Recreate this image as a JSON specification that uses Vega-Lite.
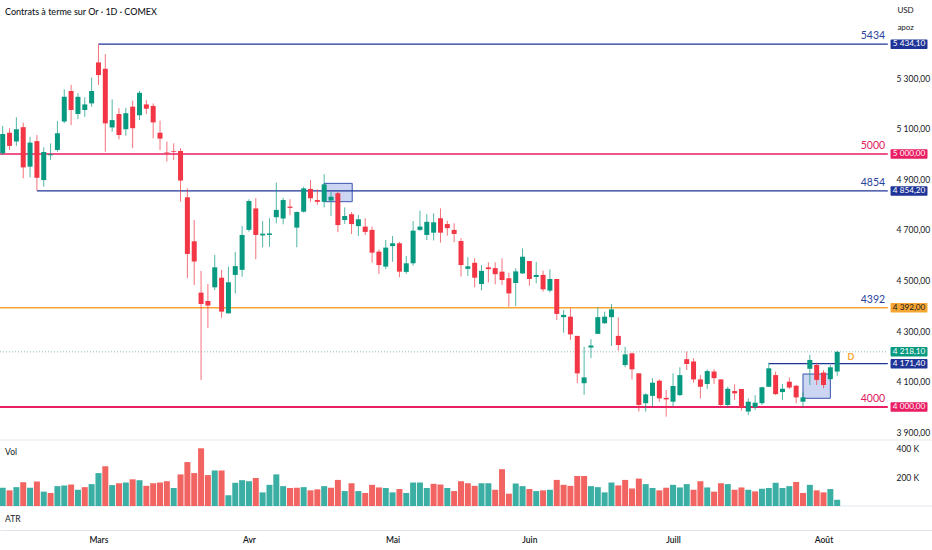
{
  "$schema": "https://vega.github.io/schema/vega-lite/v6.json",
  "width": 932,
  "height": 530,
  "autosize": "none",
  "padding": {"left": 0, "top": 0, "right": 0, "bottom": 20},
  "background": "white",
  "title": {
    "text": "Contrats à terme sur Or · 1D · COMEX",
    "anchor": "start",
    "frame": "group",
    "offset": -17,
    "dx": 5,
    "fontSize": 9,
    "fontWeight": 500,
    "color": "#131722"
  },
  "config": {
    "view": {"stroke": null},
    "font": "Lato",
    "axis": {"grid": false, "labelFont": "Lato", "labelColor": "#131722", "labelFontSize": 8.5, "labelOverlap": false}
  },
  "datasets": {
    "bars": [
      {"i": 1, "o": 5003, "h": 5111, "l": 4996, "c": 5079, "v": 126, "vd": "up"},
      {"i": 2, "o": 5084, "h": 5102, "l": 5016, "c": 5032, "v": 108, "vd": "dn"},
      {"i": 3, "o": 5049, "h": 5145, "l": 5032, "c": 5098, "v": 130, "vd": "up"},
      {"i": 4, "o": 5106, "h": 5124, "l": 4904, "c": 4947, "v": 164, "vd": "dn"},
      {"i": 5, "o": 4950, "h": 5068, "l": 4908, "c": 5045, "v": 126, "vd": "up"},
      {"i": 6, "o": 5051, "h": 5075, "l": 4855, "c": 4906, "v": 169, "vd": "dn"},
      {"i": 7, "o": 4897, "h": 5026, "l": 4871, "c": 5008, "v": 99, "vd": "up"},
      {"i": 8, "o": 4995, "h": 5042, "l": 4976, "c": 4999, "v": 90, "vd": "dn"},
      {"i": 9, "o": 5016, "h": 5130, "l": 5009, "c": 5082, "v": 137, "vd": "up"},
      {"i": 10, "o": 5128, "h": 5256, "l": 5122, "c": 5226, "v": 142, "vd": "up"},
      {"i": 11, "o": 5249, "h": 5273, "l": 5114, "c": 5174, "v": 148, "vd": "dn"},
      {"i": 12, "o": 5158, "h": 5240, "l": 5138, "c": 5226, "v": 112, "vd": "up"},
      {"i": 13, "o": 5174, "h": 5224, "l": 5147, "c": 5196, "v": 130, "vd": "dn"},
      {"i": 14, "o": 5200, "h": 5302, "l": 5187, "c": 5249, "v": 151, "vd": "up"},
      {"i": 15, "o": 5362, "h": 5434.1, "l": 5273, "c": 5312, "v": 227, "vd": "up"},
      {"i": 16, "o": 5337, "h": 5395, "l": 5009, "c": 5121, "v": 274, "vd": "dn"},
      {"i": 17, "o": 5105, "h": 5216, "l": 5088, "c": 5134, "v": 144, "vd": "up"},
      {"i": 18, "o": 5158, "h": 5181, "l": 5058, "c": 5075, "v": 157, "vd": "dn"},
      {"i": 19, "o": 5098, "h": 5183, "l": 5072, "c": 5161, "v": 162, "vd": "up"},
      {"i": 20, "o": 5187, "h": 5211, "l": 5023, "c": 5102, "v": 184, "vd": "dn"},
      {"i": 21, "o": 5153, "h": 5249, "l": 5134, "c": 5242, "v": 178, "vd": "up"},
      {"i": 22, "o": 5196, "h": 5213, "l": 5158, "c": 5179, "v": 139, "vd": "dn"},
      {"i": 23, "o": 5190, "h": 5200, "l": 5062, "c": 5125, "v": 157, "vd": "dn"},
      {"i": 24, "o": 5084, "h": 5132, "l": 5016, "c": 5061, "v": 162, "vd": "dn"},
      {"i": 25, "o": 5006, "h": 5049, "l": 4970, "c": 5003, "v": 171, "vd": "dn"},
      {"i": 26, "o": 5012, "h": 5042, "l": 4976, "c": 5009, "v": 124, "vd": "up"},
      {"i": 27, "o": 5012, "h": 5023, "l": 4811, "c": 4895, "v": 218, "vd": "dn"},
      {"i": 28, "o": 4829, "h": 4864, "l": 4509, "c": 4605, "v": 303, "vd": "dn"},
      {"i": 29, "o": 4655, "h": 4739, "l": 4482, "c": 4575, "v": 227, "vd": "dn"},
      {"i": 30, "o": 4452, "h": 4538, "l": 4107, "c": 4407, "v": 398, "vd": "dn"},
      {"i": 31, "o": 4419, "h": 4486, "l": 4312, "c": 4401, "v": 213, "vd": "dn"},
      {"i": 32, "o": 4473, "h": 4601, "l": 4462, "c": 4552, "v": 245, "vd": "up"},
      {"i": 33, "o": 4511, "h": 4542, "l": 4352, "c": 4377, "v": 245, "vd": "dn"},
      {"i": 34, "o": 4370, "h": 4555, "l": 4370, "c": 4493, "v": 74, "vd": "up"},
      {"i": 35, "o": 4522, "h": 4613, "l": 4449, "c": 4557, "v": 160, "vd": "up"},
      {"i": 36, "o": 4542, "h": 4715, "l": 4515, "c": 4680, "v": 178, "vd": "up"},
      {"i": 37, "o": 4700, "h": 4821, "l": 4693, "c": 4814, "v": 171, "vd": "up"},
      {"i": 38, "o": 4785, "h": 4825, "l": 4584, "c": 4680, "v": 193, "vd": "dn"},
      {"i": 39, "o": 4678, "h": 4735, "l": 4631, "c": 4685, "v": 94, "vd": "up"},
      {"i": 40, "o": 4680, "h": 4746, "l": 4633, "c": 4686, "v": 146, "vd": "up"},
      {"i": 41, "o": 4750, "h": 4887, "l": 4726, "c": 4779, "v": 218, "vd": "up"},
      {"i": 42, "o": 4745, "h": 4827, "l": 4722, "c": 4818, "v": 137, "vd": "up"},
      {"i": 43, "o": 4792, "h": 4821, "l": 4758, "c": 4787, "v": 124, "vd": "dn"},
      {"i": 44, "o": 4709, "h": 4772, "l": 4631, "c": 4771, "v": 126, "vd": "dn"},
      {"i": 45, "o": 4772, "h": 4871, "l": 4768, "c": 4864, "v": 130, "vd": "up"},
      {"i": 46, "o": 4862, "h": 4897, "l": 4811, "c": 4825, "v": 108, "vd": "dn"},
      {"i": 47, "o": 4818, "h": 4860, "l": 4799, "c": 4811, "v": 115, "vd": "dn"},
      {"i": 48, "o": 4811, "h": 4920, "l": 4789, "c": 4880, "v": 137, "vd": "up"},
      {"i": 49, "o": 4816, "h": 4851, "l": 4755, "c": 4831, "v": 126, "vd": "dn"},
      {"i": 50, "o": 4845, "h": 4851, "l": 4691, "c": 4719, "v": 180, "vd": "dn"},
      {"i": 51, "o": 4739, "h": 4789, "l": 4724, "c": 4755, "v": 103, "vd": "up"},
      {"i": 52, "o": 4762, "h": 4770, "l": 4684, "c": 4723, "v": 157, "vd": "dn"},
      {"i": 53, "o": 4715, "h": 4759, "l": 4676, "c": 4742, "v": 103, "vd": "up"},
      {"i": 54, "o": 4713, "h": 4746, "l": 4680, "c": 4692, "v": 90, "vd": "dn"},
      {"i": 55, "o": 4700, "h": 4713, "l": 4571, "c": 4610, "v": 146, "vd": "dn"},
      {"i": 56, "o": 4614, "h": 4623, "l": 4526, "c": 4561, "v": 128, "vd": "dn"},
      {"i": 57, "o": 4555, "h": 4660, "l": 4545, "c": 4630, "v": 124, "vd": "up"},
      {"i": 58, "o": 4636, "h": 4676, "l": 4574, "c": 4647, "v": 94, "vd": "up"},
      {"i": 59, "o": 4647, "h": 4653, "l": 4513, "c": 4535, "v": 117, "vd": "dn"},
      {"i": 60, "o": 4534, "h": 4597, "l": 4526, "c": 4568, "v": 90, "vd": "up"},
      {"i": 61, "o": 4568, "h": 4735, "l": 4559, "c": 4697, "v": 162, "vd": "up"},
      {"i": 62, "o": 4700, "h": 4776, "l": 4696, "c": 4713, "v": 162, "vd": "up"},
      {"i": 63, "o": 4680, "h": 4762, "l": 4660, "c": 4732, "v": 124, "vd": "up"},
      {"i": 64, "o": 4689, "h": 4766, "l": 4658, "c": 4730, "v": 153, "vd": "dn"},
      {"i": 65, "o": 4746, "h": 4785, "l": 4650, "c": 4689, "v": 148, "vd": "dn"},
      {"i": 66, "o": 4723, "h": 4736, "l": 4677, "c": 4707, "v": 124, "vd": "up"},
      {"i": 67, "o": 4700, "h": 4726, "l": 4651, "c": 4684, "v": 103, "vd": "dn"},
      {"i": 68, "o": 4656, "h": 4667, "l": 4516, "c": 4561, "v": 171, "vd": "dn"},
      {"i": 69, "o": 4546, "h": 4592, "l": 4518, "c": 4556, "v": 157, "vd": "dn"},
      {"i": 70, "o": 4570, "h": 4588, "l": 4473, "c": 4511, "v": 139, "vd": "dn"},
      {"i": 71, "o": 4486, "h": 4561, "l": 4462, "c": 4538, "v": 157, "vd": "up"},
      {"i": 72, "o": 4552, "h": 4572, "l": 4492, "c": 4545, "v": 157, "vd": "up"},
      {"i": 73, "o": 4549, "h": 4572, "l": 4485, "c": 4525, "v": 112, "vd": "dn"},
      {"i": 74, "o": 4535, "h": 4588, "l": 4482, "c": 4502, "v": 254, "vd": "dn"},
      {"i": 75, "o": 4509, "h": 4531, "l": 4396, "c": 4449, "v": 85, "vd": "dn"},
      {"i": 76, "o": 4490, "h": 4548, "l": 4399, "c": 4536, "v": 155, "vd": "up"},
      {"i": 77, "o": 4528, "h": 4627, "l": 4526, "c": 4594, "v": 137, "vd": "up"},
      {"i": 78, "o": 4577, "h": 4577, "l": 4479, "c": 4506, "v": 117, "vd": "dn"},
      {"i": 79, "o": 4514, "h": 4574, "l": 4489, "c": 4522, "v": 103, "vd": "up"},
      {"i": 80, "o": 4522, "h": 4539, "l": 4456, "c": 4465, "v": 108, "vd": "dn"},
      {"i": 81, "o": 4460, "h": 4544, "l": 4453, "c": 4506, "v": 112, "vd": "up"},
      {"i": 82, "o": 4506, "h": 4506, "l": 4344, "c": 4368, "v": 180, "vd": "dn"},
      {"i": 83, "o": 4355, "h": 4383, "l": 4294, "c": 4364, "v": 146, "vd": "dn"},
      {"i": 84, "o": 4357, "h": 4390, "l": 4265, "c": 4287, "v": 139, "vd": "dn"},
      {"i": 85, "o": 4281, "h": 4281, "l": 4094, "c": 4133, "v": 207, "vd": "dn"},
      {"i": 86, "o": 4094, "h": 4238, "l": 4048, "c": 4117, "v": 207, "vd": "dn"},
      {"i": 87, "o": 4235, "h": 4268, "l": 4193, "c": 4243, "v": 137, "vd": "up"},
      {"i": 88, "o": 4289, "h": 4394, "l": 4289, "c": 4355, "v": 130, "vd": "up"},
      {"i": 89, "o": 4331, "h": 4377, "l": 4328, "c": 4357, "v": 94, "vd": "up"},
      {"i": 90, "o": 4355, "h": 4407, "l": 4241, "c": 4386, "v": 162, "vd": "up"},
      {"i": 91, "o": 4281, "h": 4355, "l": 4223, "c": 4245, "v": 142, "vd": "dn"},
      {"i": 92, "o": 4166, "h": 4238, "l": 4157, "c": 4208, "v": 180, "vd": "dn"},
      {"i": 93, "o": 4212, "h": 4215, "l": 4109, "c": 4149, "v": 121, "vd": "dn"},
      {"i": 94, "o": 4133, "h": 4133, "l": 3982, "c": 4008, "v": 189, "vd": "dn"},
      {"i": 95, "o": 4015, "h": 4054, "l": 3982, "c": 4050, "v": 151, "vd": "up"},
      {"i": 96, "o": 4044, "h": 4114, "l": 4002, "c": 4096, "v": 124, "vd": "up"},
      {"i": 97, "o": 4104, "h": 4109, "l": 4021, "c": 4034, "v": 108, "vd": "dn"},
      {"i": 98, "o": 4036, "h": 4067, "l": 3962, "c": 4030, "v": 126, "vd": "dn"},
      {"i": 99, "o": 4021, "h": 4133, "l": 4002, "c": 4083, "v": 146, "vd": "up"},
      {"i": 100, "o": 4047, "h": 4157, "l": 4043, "c": 4126, "v": 128, "vd": "up"},
      {"i": 101, "o": 4189, "h": 4219, "l": 4146, "c": 4170, "v": 151, "vd": "up"},
      {"i": 102, "o": 4180, "h": 4193, "l": 4096, "c": 4109, "v": 112, "vd": "dn"},
      {"i": 103, "o": 4109, "h": 4126, "l": 4034, "c": 4080, "v": 171, "vd": "dn"},
      {"i": 104, "o": 4091, "h": 4149, "l": 4071, "c": 4142, "v": 128, "vd": "up"},
      {"i": 105, "o": 4140, "h": 4149, "l": 4091, "c": 4114, "v": 99, "vd": "dn"},
      {"i": 106, "o": 4109, "h": 4109, "l": 3999, "c": 4008, "v": 157, "vd": "dn"},
      {"i": 107, "o": 4008, "h": 4080, "l": 3999, "c": 4072, "v": 151, "vd": "up"},
      {"i": 108, "o": 4063, "h": 4090, "l": 4028, "c": 4054, "v": 112, "vd": "dn"},
      {"i": 109, "o": 4071, "h": 4071, "l": 3986, "c": 3999, "v": 128, "vd": "dn"},
      {"i": 110, "o": 3982, "h": 4034, "l": 3968, "c": 4021, "v": 112, "vd": "up"},
      {"i": 111, "o": 3999, "h": 4047, "l": 3988, "c": 4017, "v": 101, "vd": "dn"},
      {"i": 112, "o": 4015, "h": 4080, "l": 4008, "c": 4078, "v": 119, "vd": "up"},
      {"i": 113, "o": 4080, "h": 4175, "l": 4080, "c": 4153, "v": 124, "vd": "up"},
      {"i": 114, "o": 4126, "h": 4140, "l": 4047, "c": 4051, "v": 160, "vd": "up"},
      {"i": 115, "o": 4059, "h": 4091, "l": 4028, "c": 4072, "v": 124, "vd": "up"},
      {"i": 116, "o": 4100, "h": 4117, "l": 4071, "c": 4077, "v": 137, "vd": "up"},
      {"i": 117, "o": 4084, "h": 4087, "l": 4015, "c": 4038, "v": 166, "vd": "dn"},
      {"i": 118, "o": 4021, "h": 4061, "l": 3999, "c": 4038, "v": 90, "vd": "dn"},
      {"i": 119, "o": 4151, "h": 4206, "l": 4087, "c": 4186, "v": 146, "vd": "up"},
      {"i": 120, "o": 4166, "h": 4175, "l": 4087, "c": 4107, "v": 108, "vd": "dn"},
      {"i": 121, "o": 4136, "h": 4146, "l": 4074, "c": 4087, "v": 94, "vd": "dn"},
      {"i": 122, "o": 4110, "h": 4166, "l": 4104, "c": 4157, "v": 117, "vd": "up"},
      {"i": 123, "o": 4140, "h": 4223, "l": 4123, "c": 4218.1, "v": 43, "vd": "up"}
    ],
    "levels": [
      {"p": 5434.1, "start": 15, "grp": "bleu", "lbl": "5434"},
      {"p": 5000, "start": 0.6, "grp": "rose", "lbl": "5000"},
      {"p": 4854.2, "start": 6, "grp": "bleu", "lbl": "4854"},
      {"p": 4392, "start": 0.6, "grp": "orange", "lbl": "4392"},
      {"p": 4000, "start": 0.6, "grp": "rose", "lbl": "4000"},
      {"p": 4171.4, "start": 113, "grp": "bleu", "lbl": null}
    ],
    "tags": [
      {"p": 5434.1, "txt": "5 434,10", "grp": "bleu"},
      {"p": 5000, "txt": "5 000,00", "grp": "rose"},
      {"p": 4854.2, "txt": "4 854,20", "grp": "bleu"},
      {"p": 4392, "txt": "4 392,00", "grp": "orange"},
      {"p": 4218.1, "txt": "4 218,10", "grp": "vert"},
      {"p": 4171.4, "txt": "4 171,40", "grp": "bleu"},
      {"p": 4000, "txt": "4 000,00", "grp": "rose"}
    ],
    "boxes": [
      {"i1": 48, "i2": 52.1, "p1": 4884, "p2": 4811.5},
      {"i1": 118, "i2": 122, "p1": 4130.4, "p2": 4034.4}
    ]
  },
  "layer": [
    {
      "layer": [
        {
          "data": {"name": "boxes"},
          "mark": {"type": "rect", "fill": "#8fa3e3", "fillOpacity": 0.45, "stroke": "#3a55b0", "strokeWidth": 1},
          "encoding": {
            "x": {
              "field": "i1",
              "type": "quantitative",
              "title": null,
              "scale": {"domain": [0.605, 136.86], "nice": false, "zero": false, "padding": 0},
              "axis": {
                "orient": "bottom",
                "values": [15, 37, 58, 78, 99, 121],
                "labelExpr": "datum.value == 15 ? 'Mars' : datum.value == 37 ? 'Avr' : datum.value == 58 ? 'Mai' : datum.value == 78 ? 'Juin' : datum.value == 99 ? 'Juill' : 'Août'",
                "ticks": false,
                "domain": true,
                "domainColor": "#e0e3eb",
                "labelPadding": 5,
                "labelFontWeight": 600,
                "labelFontSize": 8.5
              }
            },
            "x2": {"field": "i2"},
            "y": {
              "field": "p1",
              "type": "quantitative",
              "title": null,
              "scale": {"domain": [3513.8, 5608.7], "nice": false, "zero": false, "padding": 0},
              "axis": {
                "orient": "right",
                "offset": -42,
                "values": [3900, 4000, 4100, 4200, 4300, 4400, 4500, 4600, 4700, 4800, 4900, 5000, 5100, 5200, 5300, 5400],
                "labelExpr": "floor(datum.value / 1000) + ' ' + format(datum.value % 1000, '03d') + ',00'",
                "ticks": false,
                "tickSize": 0,
                "domain": false,
                "labelPadding": 6,
                "labelAlign": "left"
              }
            },
            "y2": {"field": "p2"}
          }
        },
        {
          "data": {"values": [{"p": 4218.1}]},
          "mark": {"type": "rule", "stroke": "#8dbcb2", "strokeWidth": 1, "strokeDash": [1, 2]},
          "encoding": {
            "x": {"datum": 0.6, "type": "quantitative", "title": null},
            "x2": {"datum": 130.4},
            "y": {"field": "p", "type": "quantitative", "title": null}
          }
        },
        {
          "data": {"name": "levels"},
          "mark": {"type": "rule"},
          "encoding": {
            "x": {"field": "start", "type": "quantitative", "title": null},
            "x2": {"datum": 130.4},
            "y": {"field": "p", "type": "quantitative", "title": null},
            "color": {
              "condition": [
                {"test": "datum.grp == 'rose'", "value": "#e91e63"},
                {"test": "datum.grp == 'orange'", "value": "#f7a533"}
              ],
              "value": "#1f3497"
            },
            "strokeWidth": {"condition": {"test": "datum.p == 4000", "value": 2}, "value": 1.4}
          }
        },
        {
          "data": {"name": "levels"},
          "transform": [{"filter": "datum.lbl != null"}],
          "mark": {"type": "text", "align": "right", "baseline": "alphabetic", "dy": -5, "fontSize": 10.5},
          "encoding": {
            "x": {"datum": 130, "type": "quantitative", "title": null},
            "y": {"field": "p", "type": "quantitative", "title": null},
            "text": {"field": "lbl"},
            "color": {"condition": {"test": "datum.grp == 'rose'", "value": "#e0185d"}, "value": "#2a3f9e"}
          }
        },
        {
          "data": {"name": "bars"},
          "mark": {"type": "rule", "strokeWidth": 1, "opacity": 0.7},
          "encoding": {
            "x": {"field": "i", "type": "quantitative", "title": null},
            "y": {"field": "l", "type": "quantitative", "title": null},
            "y2": {"field": "h"},
            "color": {"condition": {"test": "datum.c >= datum.o", "value": "#089981"}, "value": "#f23645"}
          }
        },
        {
          "data": {"name": "bars"},
          "mark": {"type": "bar", "size": 5},
          "encoding": {
            "x": {"field": "i", "type": "quantitative", "title": null},
            "y": {"field": "o", "type": "quantitative", "title": null},
            "y2": {"field": "c"},
            "color": {"condition": {"test": "datum.c >= datum.o", "value": "#089981"}, "value": "#f23645"}
          }
        },
        {
          "data": {"name": "tags"},
          "mark": {"type": "bar", "size": 9.5, "cornerRadius": 1},
          "encoding": {
            "x": {"datum": 130.8, "type": "quantitative", "title": null},
            "x2": {"datum": 136.2},
            "y": {"field": "p", "type": "quantitative", "title": null},
            "color": {
              "condition": [
                {"test": "datum.grp == 'rose'", "value": "#e91e63"},
                {"test": "datum.grp == 'orange'", "value": "#f7a533"},
                {"test": "datum.grp == 'vert'", "value": "#089981"}
              ],
              "value": "#1f3497"
            }
          }
        },
        {
          "data": {"name": "tags"},
          "mark": {"type": "text", "align": "center", "baseline": "middle", "fontSize": 8.2},
          "encoding": {
            "x": {"datum": 133.5, "type": "quantitative", "title": null},
            "y": {"field": "p", "type": "quantitative", "title": null},
            "text": {"field": "txt"},
            "color": {"condition": {"test": "datum.grp == 'orange'", "value": "#131722"}, "value": "white"}
          }
        },
        {
          "data": {"values": [{"i": 125, "p": 4196, "t": "D"}]},
          "mark": {"type": "text", "align": "center", "baseline": "middle", "fontSize": 9, "fontWeight": "bold", "color": "#f7a533"},
          "encoding": {
            "x": {"field": "i", "type": "quantitative", "title": null},
            "y": {"field": "p", "type": "quantitative", "title": null},
            "text": {"field": "t"}
          }
        },
        {
          "data": {"values": [{"t": "USD", "p": 5565}, {"t": "apoz", "p": 5498}]},
          "mark": {"type": "text", "align": "left", "baseline": "middle", "fontSize": 8, "color": "#131722"},
          "encoding": {
            "x": {"datum": 131.8, "type": "quantitative", "title": null},
            "y": {"field": "p", "type": "quantitative", "title": null},
            "text": {"field": "t"}
          }
        }
      ]
    },
    {
      "layer": [
        {
          "data": {"values": [{"v": 455.2}, {"v": 0}]},
          "mark": {"type": "rule", "stroke": "#e6e8ee", "strokeWidth": 1},
          "encoding": {
            "y": {
              "field": "v",
              "type": "quantitative",
              "title": null,
              "scale": {"domain": [-165.5, 3489.7], "nice": false, "zero": false, "padding": 0},
              "axis": {
                "orient": "right",
                "offset": -42,
                "values": [200, 400],
                "labelExpr": "datum.value + ' K'",
                "ticks": false,
                "tickSize": 0,
                "domain": false,
                "labelPadding": 6,
                "labelAlign": "left"
              }
            }
          }
        },
        {
          "data": {"name": "bars"},
          "mark": {"type": "bar", "size": 6, "opacity": 0.9},
          "encoding": {
            "x": {"field": "i", "type": "quantitative", "title": null},
            "y": {"field": "v", "type": "quantitative", "title": null},
            "color": {"field": "vd", "type": "nominal", "scale": {"domain": ["up", "dn"], "range": ["#26a69a", "#ef5350"]}, "legend": null}
          }
        },
        {
          "data": {"values": [{"t": "Vol", "v": 372}, {"t": "ATR", "v": -90}]},
          "mark": {"type": "text", "align": "left", "baseline": "middle", "fontSize": 8.5, "color": "#131722"},
          "encoding": {
            "x": {"datum": 1.35, "type": "quantitative", "title": null},
            "y": {"field": "v", "type": "quantitative", "title": null},
            "text": {"field": "t"}
          }
        }
      ]
    }
  ],
  "resolve": {"scale": {"y": "independent"}}
}
